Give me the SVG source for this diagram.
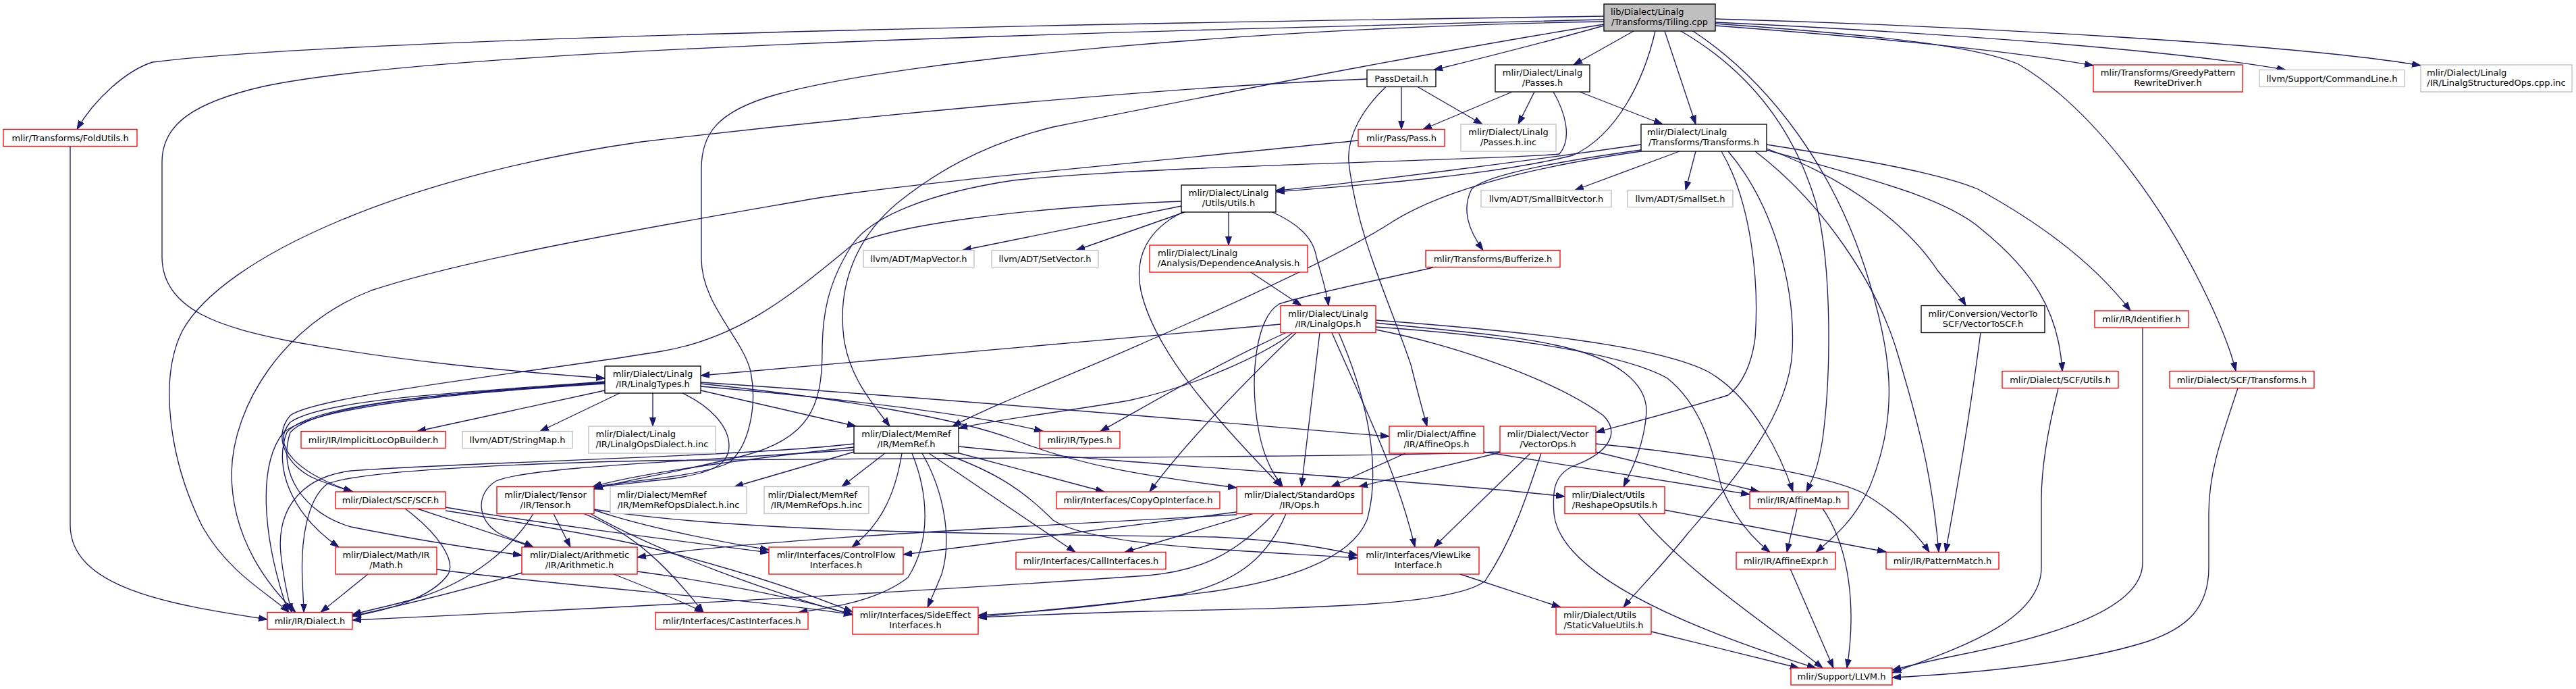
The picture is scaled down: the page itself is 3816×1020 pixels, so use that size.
<svg xmlns="http://www.w3.org/2000/svg" width="3816" height="1020" viewBox="0 0 3816 1020">
<style>
.e path{fill:none;stroke:#191970;stroke-width:1.33;marker-end:url(#a)}
.n rect{fill:#fff;stroke-width:1.33}
.k rect{stroke:#000}
.r rect{stroke:#f00}
.g rect{stroke:#bfbfbf}
#n0 rect{fill:#bfbfbf}
text{font-family:"DejaVu Sans","Liberation Sans",sans-serif;font-size:13px;fill:#000;text-anchor:middle}
text.s{text-anchor:start}
</style>
<defs>
<marker id="a" markerUnits="userSpaceOnUse" markerWidth="14" markerHeight="10" refX="13" refY="5" orient="auto"><path d="M0,0.5 L13,5 L0,9.5 z" fill="#191970" stroke="#191970" stroke-width="1"/></marker>
</defs>
<rect width="3816" height="1020" fill="#fff"/>
<g id="edges" class="e">
<path d="M2376,24 C1500,36 500,58 226,92 C188,104 140,146 114,191.5"/>
<path d="M2376,29 C1600,48 650,72 390,128 C285,152 240,185 240,240 L240,380 C240,460 330,485 430,505 C590,535 760,550 896,560"/>
<path d="M2376,36 C2100,80 1750,150 1560,188 C1450,215 1380,260 1330,300 C1270,350 1240,420 1250,500 C1258,560 1295,600 1318,631"/>
<path d="M2376,38 C2290,62 2200,85 2124,103.5"/>
<path d="M2420,46 L2331,96"/>
<path d="M2466,46 L2512,184"/>
<path d="M2452,46 C2435,120 2395,200 2330,230 C2200,262 1990,276 1890,284"/>
<path d="M2376,32 C1900,40 1350,85 1150,140 C1060,165 1039,200 1039,250 L1039,383 C1039,450 1100,500 1112,550 C1122,600 1110,660 1080,685 C1040,705 930,712 878,721"/>
<path d="M2490,46 C2600,110 2660,200 2690,300 C2715,400 2712,560 2700,650 C2692,700 2682,715 2676,728"/>
<path d="M2508,46 C2620,120 2720,250 2770,420 C2800,520 2815,610 2770,720 C2745,775 2710,800 2690,817.5"/>
<path d="M2541,38 C2700,50 2950,70 3101,97"/>
<path d="M2541,33 C2800,45 3200,70 3386,103.5"/>
<path d="M2541,28 C2900,38 3400,65 3586,97"/>
<path d="M2541,35 C2750,50 2920,65 2990,95 C3100,160 3200,300 3260,420 C3290,480 3305,520 3312,549.5"/>
<path d="M2076,128.5 L2076,191.5"/>
<path d="M2100,128.5 L2196,184"/>
<path d="M2025,117 C1700,130 1250,175 950,210 C600,260 330,380 270,490 C235,560 250,680 300,780 C340,850 400,880 428,906.5"/>
<path d="M2053,128.5 C2020,160 1995,200 1998,240 C2010,350 2060,450 2090,540 C2100,580 2108,610 2114,631"/>
<path d="M2240,136 L2108,191.5"/>
<path d="M2273,136 L2249,184"/>
<path d="M2340,136 L2463,184"/>
<path d="M2301,136 C2318,165 2330,205 2310,228 C2250,236 1700,245 1501,267 C1380,285 1290,320 1262,363 C1225,420 1218,470 1218,520 C1218,600 1200,650 1100,675 C1000,700 920,712 880,724"/>
<path d="M2431,214 C2250,240 2000,272 1890,282"/>
<path d="M2488,224 L2333,281.5"/>
<path d="M2512,224 L2497,281.5"/>
<path d="M2431,222 C2300,240 2200,260 2180,280 C2165,310 2175,340 2197,370.5"/>
<path d="M2431,224 C2250,250 2130,285 2060,330 C1990,375 1850,440 1700,505 C1600,550 1480,595 1411,631"/>
<path d="M2550,224 C2595,300 2606,420 2600,500 C2595,540 2580,570 2560,585 C2480,610 2420,625 2364,640"/>
<path d="M2560,224 C2625,300 2660,420 2655,520 C2650,620 2560,720 2500,790 C2460,840 2420,880 2405,899"/>
<path d="M2600,224 C2700,300 2780,420 2810,520 C2840,620 2862,700 2872,817.5"/>
<path d="M2617,220 C2750,270 2830,340 2870,400 C2890,425 2905,440 2912,452.5"/>
<path d="M2617,214 C2750,235 2870,255 2930,280 C3040,340 3110,400 3156,460"/>
<path d="M2617,222 C2750,260 2880,290 2936,340 C3010,400 3050,460 3055,549.5"/>
<path d="M1750,305 L1426,370.5"/>
<path d="M1755,314 L1594,370.5"/>
<path d="M1820,314 L1820,363"/>
<path d="M1885,314 C1920,330 1945,350 1950,380 C1958,410 1965,430 1968,452.5"/>
<path d="M1750,298 C1500,308 1320,335 1262,363 C1180,430 1100,500 980,520 C800,550 470,585 430,615 C400,650 430,695 470,710 C495,720 510,724 523,728"/>
<path d="M1752,314 C1700,340 1680,380 1690,430 C1710,520 1800,620 1898,720.5"/>
<path d="M1853,403 L1928,452.5"/>
<path d="M2123,396 C2040,415 1940,435 1895,450 C1860,470 1850,560 1865,640 C1875,690 1893,710 1900,720.5"/>
<path d="M1897,480 L1038,556"/>
<path d="M1915,492.5 C1880,520 1780,570 1672,593 C1560,612 1470,622 1420,634"/>
<path d="M1955,492.5 C1945,580 1935,660 1928,720.5"/>
<path d="M1973,492.5 C2020,600 2070,700 2096,810"/>
<path d="M1983,492.5 C2030,600 2045,700 2025,770 C2000,830 1900,860 1800,875 C1650,895 1520,905 1449,914"/>
<path d="M2038,478 C2150,490 2230,495 2300,510 C2400,530 2440,570 2439,610 C2436,660 2415,700 2405,720.5"/>
<path d="M2038,484 C2200,495 2400,520 2470,560 C2520,600 2535,660 2550,720 C2570,770 2600,800 2622,817.5"/>
<path d="M2038,474 C2250,490 2450,510 2530,550 C2600,590 2640,680 2656,728"/>
<path d="M2038,488 C2150,510 2300,560 2375,615 C2400,640 2385,670 2330,690 C2300,705 2300,730 2302,760 C2310,850 2500,930 2690,989"/>
<path d="M1920,492.5 C1850,560 1760,650 1703,728"/>
<path d="M1905,492.5 C1800,540 1700,600 1630,638.5"/>
<path d="M2934,492.5 C2920,600 2900,720 2882,817.5"/>
<path d="M3174,485 L3174,833 C3174,900 3050,940 2900,970 C2860,978 2830,985 2803,992"/>
<path d="M3049,575 C3030,650 3024,700 3024,740 L3024,840 C3024,920 2900,960 2803,996"/>
<path d="M3315,575 C3290,650 3272,700 3272,760 L3272,840 C3272,900 3240,930 3180,950 C3070,985 2900,998 2803,1003"/>
<path d="M896,578 L618,638.5"/>
<path d="M918,582 L800,638.5"/>
<path d="M967,582 L967,631"/>
<path d="M1038,578 L1268,631"/>
<path d="M1038,572 C1250,590 1450,615 1545,638.5"/>
<path d="M1038,568 C1250,590 1420,620 1500,650 C1600,690 1700,705 1832,722"/>
<path d="M1038,566 C1400,590 1800,625 2058,646"/>
<path d="M1011,582 C1050,600 1080,630 1080,660 C1080,690 1050,700 1000,708 C950,714 905,718 878,722"/>
<path d="M896,565 C700,580 480,590 430,625 C400,660 440,700 522,728"/>
<path d="M896,566 C700,580 460,595 425,640 C405,690 430,760 502,810"/>
<path d="M896,567 C700,580 470,595 430,640 C410,700 450,760 520,780 C620,800 700,812 773,822"/>
<path d="M896,568 C700,580 470,600 420,640 C380,690 390,800 427,906.5"/>
<path d="M1265,657 C1100,676 700,684 520,697 C440,707 410,760 416,820 C420,860 428,890 432,906.5"/>
<path d="M1265,662 C1100,680 950,700 878,720.5"/>
<path d="M1265,666 C1000,684 780,692 735,712 C705,730 705,770 740,790 C760,800 780,805 790,810"/>
<path d="M1265,669 L1088,720.5"/>
<path d="M1311,671 L1247,720.5"/>
<path d="M1336,671 C1325,740 1300,780 1262,810"/>
<path d="M1351,671 C1375,730 1380,800 1345,855 C1300,890 1230,900 1183,906.5"/>
<path d="M1366,671 C1400,730 1410,800 1395,850 C1385,875 1378,890 1374,899"/>
<path d="M1376,671 L1593,817.5"/>
<path d="M1397,671 C1480,700 1520,730 1560,770 C1620,810 1850,815 2011,826"/>
<path d="M1421,671 L1636,728"/>
<path d="M1420,661 C1700,690 2100,710 2318,735"/>
<path d="M2082,671 L1972,720.5"/>
<path d="M2198,669 L2592,732"/>
<path d="M2222,670 L2013,720.5"/>
<path d="M2222,669 C2000,678 1200,678 960,682 C700,688 520,700 484,717 C455,740 445,800 448,860 C449,885 450,898 450,906.5"/>
<path d="M2267,671 L2124,810"/>
<path d="M2283,671 C2260,740 2240,800 2200,860 C2150,900 1900,900 1700,905 C1580,908 1500,912 1449,914"/>
<path d="M2364,669 L2606,728"/>
<path d="M2364,657 C2500,670 2700,700 2760,730 C2810,760 2840,790 2858,817.5"/>
<path d="M600,753 C650,790 675,830 664,850 C640,885 570,905 522,912"/>
<path d="M618,753 L790,810"/>
<path d="M660,751 C800,775 1000,800 1139,818"/>
<path d="M660,756 C780,775 900,795 960,810 C1100,845 1200,880 1263,906"/>
<path d="M790,760.5 C760,810 700,860 620,885 C580,897 545,903 522,910"/>
<path d="M820,760.5 L845,810"/>
<path d="M865,760.5 C940,790 990,840 1042,906.5"/>
<path d="M880,755 C950,779 1050,799 1139,814"/>
<path d="M875,760.5 C980,820 1150,880 1263,910"/>
<path d="M880,754 C1100,790 1500,790 1800,795 C1900,800 1970,812 2011,822"/>
<path d="M1887,760.5 C1830,820 1780,845 1700,852 C1300,880 800,905 522,918"/>
<path d="M1832,762 C1500,780 1100,800 944,825"/>
<path d="M1832,758 L1338,821"/>
<path d="M1856,760.5 L1666,817.5"/>
<path d="M1905,760.5 C1880,820 1840,860 1750,880 C1620,900 1500,908 1449,911"/>
<path d="M2427,760.5 C2500,850 2640,940 2700,989"/>
<path d="M2466,755 L2794,817"/>
<path d="M2662,753 L2647,817.5"/>
<path d="M2700,753 C2740,810 2750,900 2736,989"/>
<path d="M545,850 L475,906.5"/>
<path d="M647,843 C850,870 1100,885 1263,910"/>
<path d="M773,848 C700,870 600,895 522,912"/>
<path d="M909,850 C960,870 1010,890 1042,906.5"/>
<path d="M944,846 C1050,860 1180,885 1263,910"/>
<path d="M2652,842 L2716,989"/>
<path d="M2163,850 L2312,899"/>
<path d="M2446,935 L2665,989"/>
<path d="M104,216.5 L104,777 C104,870 250,895 396,917"/>
<path d="M2012,208 C1700,240 1350,270 1200,295 C1000,330 700,380 550,430 C420,480 345,600 343,700 C343,800 400,870 438,906.5"/>
</g>
<g id="n0" class="n k"><rect x="2376" y="6" width="165" height="40"/><text class="s" x="2386" y="22">lib/Dialect/Linalg</text><text x="2458.5" y="37">/Transforms/Tiling.cpp</text></g>
<g id="n1" class="n k"><rect x="2025" y="103.5" width="102" height="25"/><text x="2076" y="120.5">PassDetail.h</text></g>
<g id="n2" class="n k"><rect x="2215" y="96" width="140" height="40"/><text x="2285" y="112">mlir/Dialect/Linalg</text><text x="2285" y="127">/Passes.h</text></g>
<g id="n3" class="n r"><rect x="3101" y="96" width="221" height="40"/><text x="3211.5" y="112">mlir/Transforms/GreedyPattern</text><text x="3211.5" y="127">RewriteDriver.h</text></g>
<g id="n4" class="n g"><rect x="3347" y="103.5" width="215" height="25"/><text x="3454.5" y="120.5">llvm/Support/CommandLine.h</text></g>
<g id="n5" class="n g"><rect x="3586" y="96" width="224" height="40"/><text class="s" x="3595" y="112">mlir/Dialect/Linalg</text><text x="3698" y="127">/IR/LinalgStructuredOps.cpp.inc</text></g>
<g id="n6" class="n r"><rect x="5" y="191.5" width="198" height="25"/><text x="104" y="208.5">mlir/Transforms/FoldUtils.h</text></g>
<g id="n7" class="n r"><rect x="2012" y="191.5" width="128" height="25"/><text x="2076" y="208.5">mlir/Pass/Pass.h</text></g>
<g id="n8" class="n g"><rect x="2164" y="184" width="141" height="40"/><text x="2234.5" y="200">mlir/Dialect/Linalg</text><text x="2234.5" y="215">/Passes.h.inc</text></g>
<g id="n9" class="n k"><rect x="2431" y="184" width="186" height="40"/><text class="s" x="2440" y="200">mlir/Dialect/Linalg</text><text x="2524" y="215">/Transforms/Transforms.h</text></g>
<g id="n10" class="n k"><rect x="1750" y="274" width="140" height="40"/><text x="1820" y="290">mlir/Dialect/Linalg</text><text x="1820" y="305">/Utils/Utils.h</text></g>
<g id="n11" class="n g"><rect x="2194" y="281.5" width="193" height="25"/><text x="2290.5" y="298.5">llvm/ADT/SmallBitVector.h</text></g>
<g id="n12" class="n g"><rect x="2411" y="281.5" width="156" height="25"/><text x="2489" y="298.5">llvm/ADT/SmallSet.h</text></g>
<g id="n13" class="n g"><rect x="1279" y="370.5" width="164" height="25"/><text x="1361" y="387.5">llvm/ADT/MapVector.h</text></g>
<g id="n14" class="n g"><rect x="1469" y="370.5" width="158" height="25"/><text x="1548" y="387.5">llvm/ADT/SetVector.h</text></g>
<g id="n15" class="n r"><rect x="1703" y="363" width="234" height="40"/><text class="s" x="1715" y="379">mlir/Dialect/Linalg</text><text x="1820" y="394">/Analysis/DependenceAnalysis.h</text></g>
<g id="n16" class="n r"><rect x="2112" y="370.5" width="199" height="25"/><text x="2211.5" y="387.5">mlir/Transforms/Bufferize.h</text></g>
<g id="n17" class="n r"><rect x="1897" y="452.5" width="141" height="40"/><text x="1967.5" y="468.5">mlir/Dialect/Linalg</text><text x="1967.5" y="483.5">/IR/LinalgOps.h</text></g>
<g id="n18" class="n k"><rect x="2846" y="452.5" width="183" height="40"/><text x="2937.5" y="468.5">mlir/Conversion/VectorTo</text><text x="2937.5" y="483.5">SCF/VectorToSCF.h</text></g>
<g id="n19" class="n r"><rect x="3103" y="460" width="139" height="25"/><text x="3172.5" y="477">mlir/IR/Identifier.h</text></g>
<g id="n20" class="n k"><rect x="896" y="542" width="142" height="40"/><text x="967" y="558">mlir/Dialect/Linalg</text><text x="967" y="573">/IR/LinalgTypes.h</text></g>
<g id="n21" class="n r"><rect x="2966" y="549.5" width="172" height="25"/><text x="3052" y="566.5">mlir/Dialect/SCF/Utils.h</text></g>
<g id="n22" class="n r"><rect x="3214" y="549.5" width="214" height="25"/><text x="3321" y="566.5">mlir/Dialect/SCF/Transforms.h</text></g>
<g id="n23" class="n r"><rect x="446" y="638.5" width="214" height="25"/><text x="553" y="655.5">mlir/IR/ImplicitLocOpBuilder.h</text></g>
<g id="n24" class="n g"><rect x="685" y="638.5" width="163" height="25"/><text x="766.5" y="655.5">llvm/ADT/StringMap.h</text></g>
<g id="n25" class="n g"><rect x="872" y="631" width="188" height="40"/><text class="s" x="882.6" y="647">mlir/Dialect/Linalg</text><text x="966" y="662">/IR/LinalgOpsDialect.h.inc</text></g>
<g id="n26" class="n k"><rect x="1265" y="631" width="155" height="40"/><text x="1342.5" y="647">mlir/Dialect/MemRef</text><text x="1342.5" y="662">/IR/MemRef.h</text></g>
<g id="n27" class="n r"><rect x="1540" y="638.5" width="119" height="25"/><text x="1599.5" y="655.5">mlir/IR/Types.h</text></g>
<g id="n28" class="n r"><rect x="2058" y="631" width="140" height="40"/><text x="2128" y="647">mlir/Dialect/Affine</text><text x="2128" y="662">/IR/AffineOps.h</text></g>
<g id="n29" class="n r"><rect x="2222" y="631" width="142" height="40"/><text x="2293" y="647">mlir/Dialect/Vector</text><text x="2293" y="662">/VectorOps.h</text></g>
<g id="n30" class="n r"><rect x="497" y="728" width="163" height="25"/><text x="578.5" y="745">mlir/Dialect/SCF/SCF.h</text></g>
<g id="n31" class="n r"><rect x="736" y="720.5" width="144" height="40"/><text x="808" y="736.5">mlir/Dialect/Tensor</text><text x="808" y="751.5">/IR/Tensor.h</text></g>
<g id="n32" class="n g"><rect x="904" y="720.5" width="202" height="40"/><text class="s" x="914.3" y="736.5">mlir/Dialect/MemRef</text><text x="1005" y="751.5">/IR/MemRefOpsDialect.h.inc</text></g>
<g id="n33" class="n g"><rect x="1132" y="720.5" width="155" height="40"/><text class="s" x="1137.4" y="736.5">mlir/Dialect/MemRef</text><text x="1209.5" y="751.5">/IR/MemRefOps.h.inc</text></g>
<g id="n34" class="n r"><rect x="1565" y="728" width="242" height="25"/><text x="1686" y="745">mlir/Interfaces/CopyOpInterface.h</text></g>
<g id="n35" class="n r"><rect x="1832" y="720.5" width="186" height="40"/><text x="1925" y="736.5">mlir/Dialect/StandardOps</text><text x="1925" y="751.5">/IR/Ops.h</text></g>
<g id="n36" class="n r"><rect x="2318" y="720.5" width="148" height="40"/><text class="s" x="2328.5" y="736.5">mlir/Dialect/Utils</text><text x="2392" y="751.5">/ReshapeOpsUtils.h</text></g>
<g id="n37" class="n r"><rect x="2592" y="728" width="146" height="25"/><text x="2665" y="745">mlir/IR/AffineMap.h</text></g>
<g id="n38" class="n r"><rect x="497" y="810" width="150" height="40"/><text x="572" y="826">mlir/Dialect/Math/IR</text><text x="572" y="841">/Math.h</text></g>
<g id="n39" class="n r"><rect x="773" y="810" width="171" height="40"/><text x="858.5" y="826">mlir/Dialect/Arithmetic</text><text x="858.5" y="841">/IR/Arithmetic.h</text></g>
<g id="n40" class="n r"><rect x="1139" y="810" width="199" height="40"/><text x="1238.5" y="826">mlir/Interfaces/ControlFlow</text><text x="1238.5" y="841">Interfaces.h</text></g>
<g id="n41" class="n r"><rect x="1505" y="817.5" width="222" height="25"/><text x="1616" y="834.5">mlir/Interfaces/CallInterfaces.h</text></g>
<g id="n42" class="n r"><rect x="2011" y="810" width="180" height="40"/><text x="2101" y="826">mlir/Interfaces/ViewLike</text><text x="2101" y="841">Interface.h</text></g>
<g id="n43" class="n r"><rect x="2572" y="817.5" width="147" height="25"/><text x="2645.5" y="834.5">mlir/IR/AffineExpr.h</text></g>
<g id="n44" class="n r"><rect x="2794" y="817.5" width="167" height="25"/><text x="2877.5" y="834.5">mlir/IR/PatternMatch.h</text></g>
<g id="n45" class="n r"><rect x="396" y="906.5" width="126" height="25"/><text x="459" y="923.5">mlir/IR/Dialect.h</text></g>
<g id="n46" class="n r"><rect x="971" y="906.5" width="226" height="25"/><text x="1084" y="923.5">mlir/Interfaces/CastInterfaces.h</text></g>
<g id="n47" class="n r"><rect x="1263" y="899" width="186" height="40"/><text x="1356" y="915">mlir/Interfaces/SideEffect</text><text x="1356" y="930">Interfaces.h</text></g>
<g id="n48" class="n r"><rect x="2305" y="899" width="141" height="40"/><text class="s" x="2315.9" y="915">mlir/Dialect/Utils</text><text x="2375.5" y="930">/StaticValueUtils.h</text></g>
<g id="n49" class="n r"><rect x="2653" y="989" width="150" height="25"/><text x="2728" y="1006">mlir/Support/LLVM.h</text></g>
</svg>
